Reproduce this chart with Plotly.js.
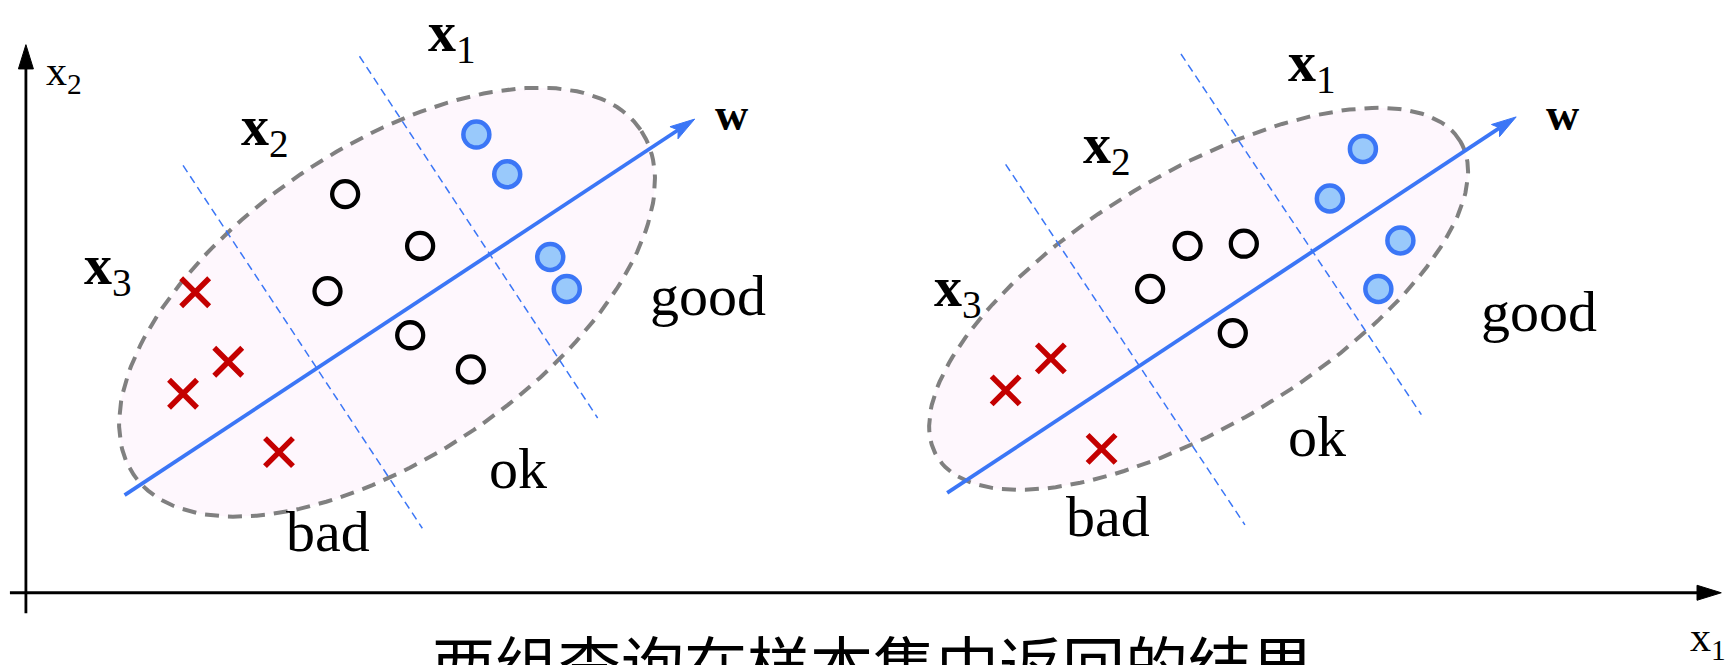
<!DOCTYPE html>
<html><head><meta charset="utf-8">
<script src="https://cdn.plot.ly/plotly-3.0.1.min.js"></script>
<style>html,body{margin:0;padding:0;background:#fff;overflow:hidden}#chart{width:1729px;height:665px}</style>
</head><body><div id="chart"></div><script>
// ---------- data (in its own pixel frame: x right, y down) ----------
const leftGoodX  = [432, 460, 499, 514];
const leftGoodY  = [122, 158, 233, 262];
const leftOkX    = [313, 381, 297, 372, 427];
const leftOkY    = [176, 223, 264, 304, 335];
const leftBadX   = [177, 207, 166, 253];
const leftBadY   = [265, 328, 357, 410];

const rightGoodX = [1236, 1206, 1270, 1250];
const rightGoodY = [135, 180, 218, 262];
const rightOkX   = [1077, 1128, 1043, 1118];
const rightOkY   = [223, 221, 262, 302];
const rightBadX  = [953, 912, 999];
const rightBadY  = [325, 354, 407];

const gradeLabels = ['good', 'ok', 'bad'];
const queryLabels = ['x', 'x', 'x'];
const querySubs   = ['1', '2', '3'];
const wLabel      = 'w';
const axisLabels  = ['x<sub>1</sub>', 'x<sub>2</sub>'];
const caption     = '两组查询在样本集中返回的结果';

// ---------- geometry of the two panels ----------
const panels = [
  { ell: {cx: 351, cy: 274, a: 278, b: 140, deg: 34.2},
    w: [[113, 449], [630, 108]],
    cuts: [[[326, 51], [542, 379]], [[166, 150], [383, 479]]],
    queryPos: [[410, 33], [240, 118], [98, 244]],
    gradePos: [[642, 268], [470, 425], [297, 482]],
    wPos: [663, 104] },
  { ell: {cx: 1087, cy: 271, a: 277, b: 114, deg: 31.1},
    w: [[859, 447], [1375, 106]],
    cuts: [[[1071, 49], [1289, 376]], [[912, 149], [1129, 476]]],
    queryPos: [[1190, 60], [1004, 134], [869, 264]],
    gradePos: [[1396, 282], [1194, 396], [1005, 468]],
    wPos: [1417, 104] }
];

const BLUE = '#3b76f6', LIGHTBLUE = '#99c9fb', RED = '#c40000', GRAY = '#808080', PINK = '#fef7fd';
const SERIF = 'Liberation Serif, Times New Roman, serif';

function ellipse(e) {
  const t = e.deg * Math.PI / 180, xs = [], ys = [];
  for (let i = 0; i <= 180; i++) {
    const p = 2 * Math.PI * i / 180;
    const u = e.a * Math.cos(p), v = e.b * Math.sin(p);
    xs.push(e.cx + u * Math.cos(t) - v * Math.sin(t));
    ys.push(e.cy - u * Math.sin(t) - v * Math.cos(t));
  }
  return {xs, ys};
}
// arrow head polygon; returns also the point where the shaft should stop
function head(from, to, L, H, notch) {
  const dx = to[0] - from[0], dy = to[1] - from[1], d = Math.hypot(dx, dy);
  const ux = dx / d, uy = dy / d, nx = -uy, ny = ux;
  const bx = to[0] - L * ux, by = to[1] - L * uy;
  const mx = to[0] - (L - notch) * ux, my = to[1] - (L - notch) * uy;
  return { xs: [to[0], bx + H * nx, mx, bx - H * nx, to[0]],
           ys: [to[1], by + H * ny, my, by - H * ny, to[1]], stop: [mx, my] };
}

const traces = [], annotations = [];

panels.forEach(P => {
  const el = ellipse(P.ell);
  traces.push({x: el.xs, y: el.ys, mode: 'lines', fill: 'toself', fillcolor: PINK,
    line: {color: GRAY, width: 4, dash: '14px,9px'}, hoverinfo: 'skip'});
  P.cuts.forEach(c => traces.push({x: [c[0][0], c[1][0]], y: [c[0][1], c[1][1]], mode: 'lines',
    line: {color: BLUE, width: 1.5, dash: '8px,5px'}, hoverinfo: 'skip'}));
  const h = head(P.w[0], P.w[1], 22.5, 6.6, 4.5);
  traces.push({x: [P.w[0][0], h.stop[0]], y: [P.w[0][1], h.stop[1]], mode: 'lines',
    line: {color: BLUE, width: 3.8}, hoverinfo: 'skip'});
  traces.push({x: h.xs, y: h.ys, mode: 'lines', fill: 'toself', fillcolor: BLUE,
    line: {color: BLUE, width: 1}, hoverinfo: 'skip'});
  P.queryPos.forEach((p, i) => annotations.push({x: p[0], y: p[1], xref: 'x', yref: 'y', showarrow: false,
    text: '<b>' + queryLabels[i] + '</b><sub>' + querySubs[i] + '</sub>', font: {family: SERIF, size: 56, color: '#000'}}));
  P.gradePos.forEach((p, i) => annotations.push({x: p[0], y: p[1], xref: 'x', yref: 'y', showarrow: false,
    text: gradeLabels[i], font: {family: SERIF, size: 58, color: '#000'}}));
  annotations.push({x: P.wPos[0], y: P.wPos[1], xref: 'x', yref: 'y', showarrow: false,
    text: '<b>' + wLabel + '</b>', font: {family: SERIF, size: 46, color: '#000'}});
});

// axes
const yAx = [[23.5, 556], [23.5, 40.5]], xAx = [[9, 537.5], [1561, 537.5]];
[yAx, xAx].forEach(A => {
  const h = head(A[0], A[1], 22, 6.8, 0);
  traces.push({x: [A[0][0], h.stop[0]], y: [A[0][1], h.stop[1]], mode: 'lines', line: {color: '#000', width: 2.8}, hoverinfo: 'skip'});
  traces.push({x: h.xs, y: h.ys, mode: 'lines', fill: 'toself', fillcolor: '#000', line: {color: '#000', width: 1}, hoverinfo: 'skip'});
});
annotations.push({x: 1549, y: 580, xref: 'x', yref: 'y', showarrow: false, text: axisLabels[0], font: {family: SERIF, size: 42, color: '#000'}});
annotations.push({x: 58, y: 67, xref: 'x', yref: 'y', showarrow: false, text: axisLabels[1], font: {family: SERIF, size: 42, color: '#000'}});
annotations.push({x: 792, y: 557, xref: 'x', yref: 'y', yanchor: 'top', showarrow: false, text: caption,
  font: {family: 'Noto Sans CJK SC', size: 63, color: '#000'}});

// markers
const goodMk = {size: 26, color: LIGHTBLUE, line: {color: BLUE, width: 4.5}};
const okMk = {size: 26, color: 'rgba(0,0,0,0)', symbol: 'circle', line: {color: '#000', width: 4.3}};
const badMk = {size: 28, symbol: 'x-thin', color: RED, line: {color: RED, width: 5.5}};
[[leftGoodX, leftGoodY, goodMk], [rightGoodX, rightGoodY, goodMk],
 [leftOkX, leftOkY, okMk], [rightOkX, rightOkY, okMk],
 [leftBadX, leftBadY, badMk], [rightBadX, rightBadY, badMk]].forEach(s =>
  traces.push({x: s[0], y: s[1], mode: 'markers', marker: s[2], hoverinfo: 'skip'}));

const layout = {
  width: 1729, height: 665, margin: {l: 0, r: 0, t: 0, b: 0},
  paper_bgcolor: '#fff', plot_bgcolor: '#fff', showlegend: false,
  xaxis: {range: [0, 1568], visible: false, fixedrange: true},
  yaxis: {range: [603, 0], visible: false, fixedrange: true},
  annotations
};
traces.forEach(t => { t.type = 'scatter'; t.cliponaxis = false; });
Plotly.newPlot('chart', traces, layout, {staticPlot: true, displayModeBar: false});
</script></body></html>
